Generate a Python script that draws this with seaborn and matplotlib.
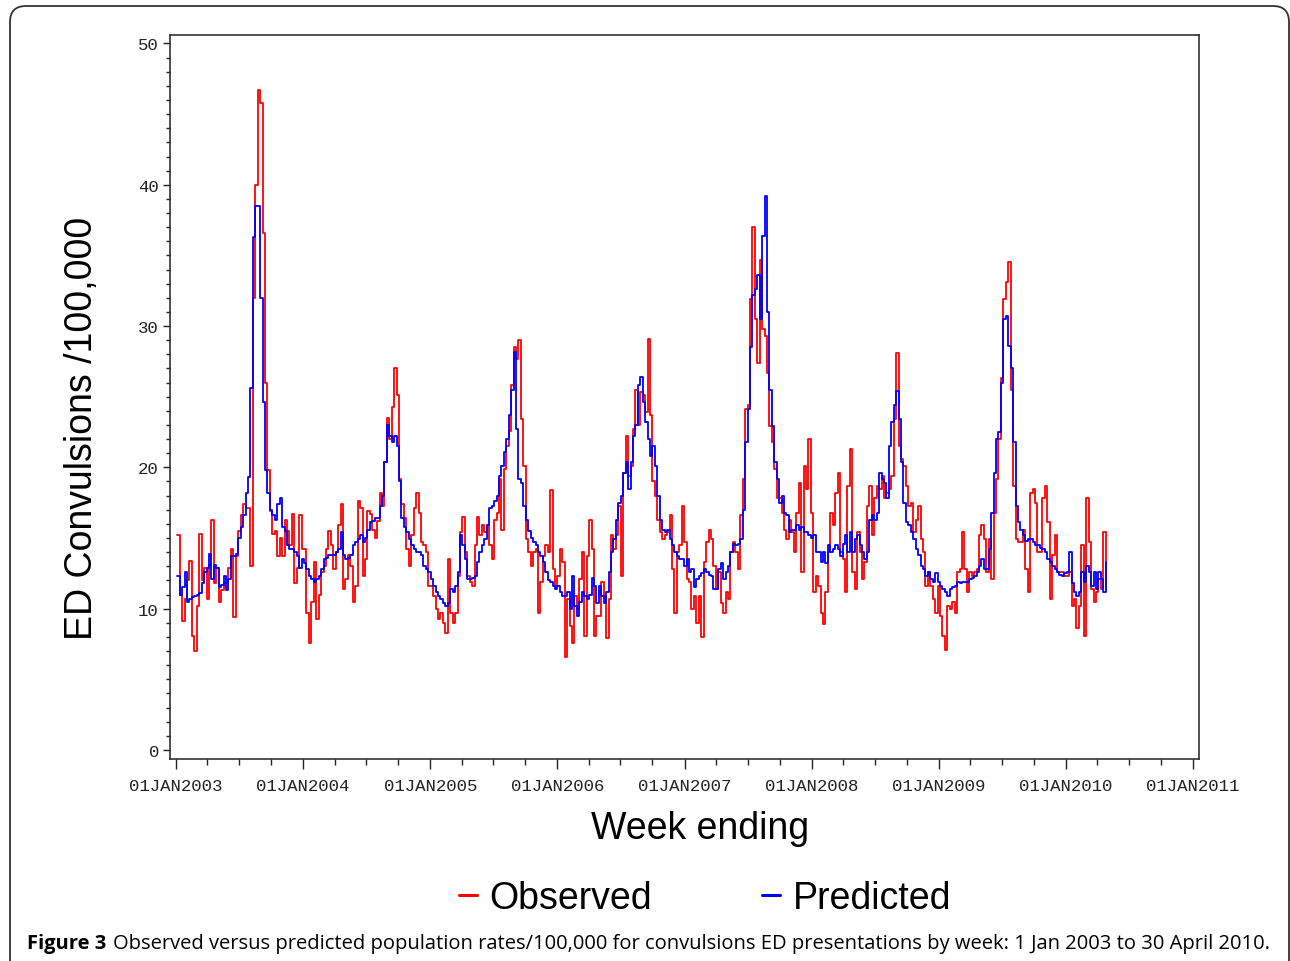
"""
Observed vs predicted weekly ED convulsion rates, 2003-2010.
"""

import matplotlib
matplotlib.use("Agg")
import matplotlib.pyplot as plt
import matplotlib.dates as mdates
from matplotlib.patches import FancyBboxPatch
from matplotlib.transforms import IdentityTransform
from matplotlib.ticker import MultipleLocator, FuncFormatter
import seaborn as sns
import pandas as pd
import numpy as np

# weekly rates per 100,000 (first week ends 5 Jan 2003)
obs_2003 = [15.2, 11.0, 9.1, 10.7, 12.0, 13.4, 8.1, 7.0, 10.2, 15.3,
            12.0, 12.9, 10.7, 13.1, 16.3, 11.8, 12.9, 10.5, 11.3, 11.8,
            11.8, 12.9, 14.2, 9.4, 13.7, 15.5, 16.6, 17.4, 17.1, 17.1,
            13.0, 32.0, 40.0, 46.7, 45.8, 36.6, 26.0, 19.8,
            16.9, 15.3, 15.5, 13.7, 15.0, 13.7, 16.3, 15.5, 14.5, 16.7, 11.8, 12.9, 16.6, 14.2]
obs_2004 = [14.2, 9.7, 7.6, 10.5, 13.3, 9.3, 11.0, 12.6, 13.0, 14.2,
            15.5, 14.5, 12.8, 14.0, 15.9, 17.4, 11.4, 12.1, 13.8, 13.0,
            10.5, 11.6, 17.6, 17.1, 12.3, 13.5, 16.9, 16.7, 15.6, 15.0,
            16.2, 18.2, 17.3, 20.4, 23.5, 22.0, 24.3, 27.0, 25.1, 19.2,
            17.4, 16.4, 14.2, 13.0, 15.2, 17.1, 18.2, 16.8, 14.7, 14.5,
            14.0, 11.6]
obs_2005 = [11.6, 10.9, 10.0, 9.3, 9.7, 9.0, 8.3, 13.5, 9.7, 9.0,
            9.7, 12.3, 15.4, 16.5, 14.0, 12.3, 11.9, 11.6, 14.5, 16.5,
            15.2, 15.9, 15.4, 15.9, 14.5, 13.5, 16.3, 16.8, 19.2, 15.6,
            19.9, 21.5, 22.6, 25.8, 28.5, 27.7, 29.0, 23.4, 20.1, 14.9,
            14.0, 13.0, 14.0, 14.2, 9.7, 11.9, 13.7, 14.5, 14.0, 18.4,
            12.8, 11.6]
obs_2006 = [12.3, 14.2, 13.3, 6.6, 10.7, 8.8, 7.6, 10.9, 10.0, 12.1,
            14.0, 8.1, 13.7, 16.3, 14.2, 8.1, 9.5, 9.5, 11.9, 10.9,
            7.9, 10.7, 15.2, 14.2, 15.2, 17.3, 12.3, 19.6, 22.2, 19.4,
            20.1, 22.7, 25.5, 23.0, 25.3, 25.1, 23.9, 29.1, 23.7, 19.0,
            18.0, 16.3, 15.4, 14.9, 15.2, 15.4, 16.6, 12.8, 9.7, 14.0,
            14.5, 17.3, 14.7]
obs_2007 = [12.1, 11.9, 10.0, 10.9, 9.0, 10.9, 8.0, 13.3, 14.7, 15.6,
            14.9, 13.0, 11.4, 12.6, 10.4, 9.7, 11.2, 10.7, 14.0, 14.7,
            14.0, 12.8, 16.6, 19.2, 24.1, 24.4, 31.9, 37.0, 30.5, 27.4,
            34.7, 29.8, 29.3, 26.7, 22.9, 21.8, 19.9, 17.8, 17.8, 16.8,
            15.6, 14.9, 16.3, 15.4, 14.0, 16.8, 18.9, 12.6, 20.1, 18.5,
            22.0, 16.8]
obs_2008 = [11.2, 12.3, 11.6, 9.7, 8.9, 11.2, 14.0, 16.8, 15.9, 18.2,
            19.6, 14.0, 13.5, 11.2, 18.7, 21.3, 12.6, 11.4, 15.4, 14.0,
            12.1, 13.3, 17.3, 18.7, 15.2, 17.8, 18.7, 18.5, 19.4, 17.8,
            18.2, 18.5, 19.4, 23.4, 28.1, 21.5, 20.6, 20.1, 18.7, 17.3,
            17.5, 15.4, 16.3, 17.3, 14.9, 14.0, 11.6, 12.6, 11.6, 10.7,
            9.7, 11.6]
obs_2009 = [9.5, 8.1, 7.1, 10.2, 10.0, 10.5, 9.7, 12.6, 12.8, 15.4,
            12.8, 11.2, 12.6, 12.3, 12.6, 12.8, 15.2, 15.9, 14.9, 12.6,
            14.9, 12.1, 16.8, 19.2, 22.0, 26.3, 31.9, 33.1, 34.5, 25.5,
            18.7, 14.9, 14.7, 14.7, 15.6, 12.8, 11.2, 18.2, 18.5, 17.5,
            14.0, 14.0, 17.8, 18.7, 16.1, 10.7, 13.8, 15.2, 12.6, 12.6,
            12.6, 12.3]
obs_2010 = [12.3, 12.6, 10.2, 10.7, 8.6, 10.2, 14.5, 8.1, 17.8, 14.7,
            11.4, 10.5, 11.2, 12.1, 11.4, 15.4, 11.4]

pred_2003 = [12.3, 11.0, 11.5, 12.6, 10.5, 10.7, 10.8, 10.9, 11.0, 11.1,
             11.8, 12.6, 12.9, 13.9, 12.1, 13.1, 12.9, 11.5, 11.7, 12.3,
             11.3, 12.1, 13.7, 13.7, 13.9, 15.0, 15.8, 16.6, 18.2, 19.3,
             25.6, 36.3, 38.5, 38.5, 32.0, 24.6, 19.8, 18.2,
             17.0, 16.6, 16.3, 17.4, 17.8, 15.8, 15.5, 14.5, 14.2, 14.2, 14.0, 13.7, 12.9, 13.5]
pred_2004 = [13.2, 12.8, 12.3, 12.1, 11.9, 12.1, 12.3, 12.8, 13.5, 13.6,
             13.8, 13.8, 13.8, 14.0, 14.2, 15.4, 13.8, 13.5, 13.6, 13.8,
             14.5, 14.7, 14.9, 15.2, 14.7, 15.0, 15.6, 16.1, 16.2, 16.4,
             16.4, 17.3, 18.0, 20.4, 23.0, 22.2, 21.8, 22.2, 21.5, 19.0,
             16.4, 15.8, 15.4, 14.9, 14.5, 14.2, 14.0, 14.0, 13.8, 13.0,
             12.8, 12.6]
pred_2005 = [12.1, 11.6, 11.2, 10.9, 10.7, 10.4, 10.2, 10.4, 11.4, 11.2,
             11.6, 12.6, 15.2, 14.5, 13.5, 12.1, 12.1, 12.2, 12.3, 13.3,
             14.0, 14.5, 14.9, 15.9, 17.1, 17.3, 17.6, 18.0, 19.4, 20.1,
             21.1, 22.0, 23.7, 25.5, 28.2, 22.7, 19.2, 18.9, 17.3, 16.3,
             15.5, 15.0, 14.7, 14.5, 14.0, 13.7, 13.3, 12.6, 12.0, 11.9,
             11.6, 11.4]
pred_2006 = [11.6, 11.2, 10.9, 10.9, 11.2, 10.0, 12.3, 10.2, 9.5, 10.5,
             11.2, 10.9, 10.7, 11.0, 12.2, 11.6, 10.4, 11.6, 10.9, 10.4,
             11.2, 12.6, 14.0, 14.9, 16.3, 17.5, 18.0, 19.6, 20.4, 18.5,
             20.4, 22.2, 23.0, 25.8, 26.4, 24.6, 23.2, 22.0, 20.8, 21.5,
             20.1, 18.0, 16.3, 15.6, 15.4, 15.6, 14.9, 14.5, 14.0, 13.7,
             13.5, 13.5, 13.0]
pred_2007 = [13.5, 12.6, 12.8, 11.5, 12.1, 12.3, 12.5, 12.8, 12.6, 12.4,
             12.3, 11.4, 11.4, 12.8, 13.2, 12.1, 12.6, 13.0, 14.0, 14.6,
             14.5, 14.6, 14.9, 17.0, 21.8, 24.1, 28.5, 32.2, 32.6, 33.6,
             30.5, 36.4, 39.2, 31.0, 25.5, 22.9, 20.4, 19.2, 17.5, 18.0,
             16.8, 16.6, 15.4, 15.6, 15.6, 15.9, 15.6, 15.8, 15.4, 15.4,
             15.2, 15.0]
pred_2008 = [15.2, 14.0, 14.0, 13.3, 14.0, 13.2, 14.5, 14.0, 14.2, 14.5,
             14.2, 13.7, 14.6, 15.2, 14.0, 15.4, 14.0, 14.9, 15.2, 14.5,
             14.0, 13.5, 14.0, 16.3, 16.6, 16.3, 16.8, 19.6, 19.2, 18.9,
             17.8, 21.5, 23.2, 24.4, 25.4, 23.4, 20.4, 17.5, 16.1, 15.9,
             15.4, 14.9, 14.2, 13.8, 13.0, 12.8, 12.3, 12.6, 12.1, 11.9,
             12.5, 11.9]
pred_2009 = [11.6, 11.4, 11.2, 10.9, 11.4, 11.5, 11.6, 11.9, 11.8, 11.9,
             11.9, 11.9, 12.1, 12.2, 12.3, 12.6, 13.0, 13.5, 12.8, 12.8,
             14.2, 16.8, 19.6, 22.0, 22.5, 26.0, 30.5, 30.7, 28.6, 27.0,
             21.8, 17.3, 16.1, 15.6, 15.2, 14.8, 14.9, 14.9, 14.7, 14.5,
             14.5, 14.3, 14.2, 14.0, 13.5, 13.3, 13.0, 12.8, 12.6, 12.4,
             12.3, 12.5]
pred_2010 = [12.6, 14.0, 11.8, 11.2, 10.9, 11.2, 12.6, 11.9, 13.0, 12.6,
             11.6, 12.6, 11.4, 12.6, 12.1, 11.2, 13.3]

observed = obs_2003 + obs_2004 + obs_2005 + obs_2006 + obs_2007 + obs_2008 + obs_2009 + obs_2010
predicted = pred_2003 + pred_2004 + pred_2005 + pred_2006 + pred_2007 + pred_2008 + pred_2009 + pred_2010

n = len(observed)
weeks = pd.date_range("2003-01-05", periods=n, freq="7D")
df = pd.DataFrame({
    "week": list(weeks) * 2,
    "rate": observed + predicted,
    "series": ["Observed"] * n + ["Predicted"] * len(predicted),
})

sns.set_theme(style="ticks")
plt.rcParams["font.family"] = ["Liberation Sans", "DejaVu Sans"]

W, H = 1290, 962
fig = plt.figure(figsize=(W / 100, H / 100), dpi=100)
ax = fig.add_axes([170 / W, 1 - 760 / H, (1199 - 170) / W, (760 - 36) / H])

sns.lineplot(data=df, x="week", y="rate", hue="series",
             palette={"Observed": "#ff0000", "Predicted": "#0000ff"},
             estimator=None, drawstyle="steps-post", linewidth=1.3, ax=ax)

# axes limits: small margin outside the first/last tick as in the original
ax.set_xlim(pd.Timestamp("2002-12-15"), pd.Timestamp("2011-01-18"))
ax.set_ylim(-0.64, 50.6)

ax.xaxis.set_major_locator(mdates.YearLocator())
ax.xaxis.set_minor_locator(mdates.MonthLocator(bymonth=[4, 7, 10]))
ax.xaxis.set_major_formatter(FuncFormatter(
    lambda v, pos: mdates.num2date(v).strftime("%d%b%Y").upper()))
ax.yaxis.set_major_locator(MultipleLocator(10))
ax.yaxis.set_minor_locator(MultipleLocator(1))

mono = ["Liberation Mono", "DejaVu Sans Mono"]
for lab in ax.get_xticklabels() + ax.get_yticklabels():
    lab.set_family(mono)
    lab.set_fontsize(12.5)
    lab.set_color("#222222")

ax.tick_params(axis="x", which="major", direction="out", length=7.5, width=1, pad=6, colors="#222222")
ax.tick_params(axis="x", which="minor", direction="out", length=4.5, width=1, colors="#222222")
ax.tick_params(axis="y", which="major", direction="out", length=5, width=1, pad=3, colors="#222222")
ax.tick_params(axis="y", which="minor", direction="out", length=3, width=1, colors="#222222")
for sp in ax.spines.values():
    sp.set_visible(True)
    sp.set_linewidth(1.1)
    sp.set_color("#222222")

ax.set_xlabel("Week ending", fontsize=27, color="black")
ax.set_ylabel("ED Convulsions /100,000", fontsize=27, color="black")
ax.xaxis.set_label_coords((700 - 170) / 1029, -0.071)
ax.yaxis.set_label_coords(-0.068, (760 - 428) / 724)

handles, labels = ax.get_legend_handles_labels()
ax.get_legend().remove()
for h in handles:
    h.set_linewidth(2.2)
leg = fig.legend(handles, labels, loc="center", bbox_to_anchor=(705 / W, 1 - 899 / H),
                 ncol=2, frameon=False, fontsize=27, handlelength=0.48,
                 handletextpad=0.32, columnspacing=2.95)
for t in leg.get_texts():
    t.set_color("black")

# caption
cap_font = ["Open Sans", "DejaVu Sans"]
t1 = fig.text(27 / W, 1 - 944 / H, "Figure 3", fontsize=14.5, fontweight="bold",
              family=cap_font, va="center", ha="left", color="black")
fig.canvas.draw()
bb = t1.get_window_extent(fig.canvas.get_renderer())
fig.text((bb.x1 + 7) / W, 1 - 944 / H,
         "Observed versus predicted population rates/100,000 for convulsions ED "
         "presentations by week: 1 Jan 2003 to 30 April 2010.",
         fontsize=14.5, family=cap_font, va="center", ha="left", color="black")

# rounded frame of the figure panel
frame = FancyBboxPatch((10, -30), 1279, 985, boxstyle="round,pad=0,rounding_size=16",
                       transform=IdentityTransform(), fill=False,
                       edgecolor="#333333", linewidth=1.3)
fig.patches.append(frame)

fig.savefig("out.png", dpi=100)
